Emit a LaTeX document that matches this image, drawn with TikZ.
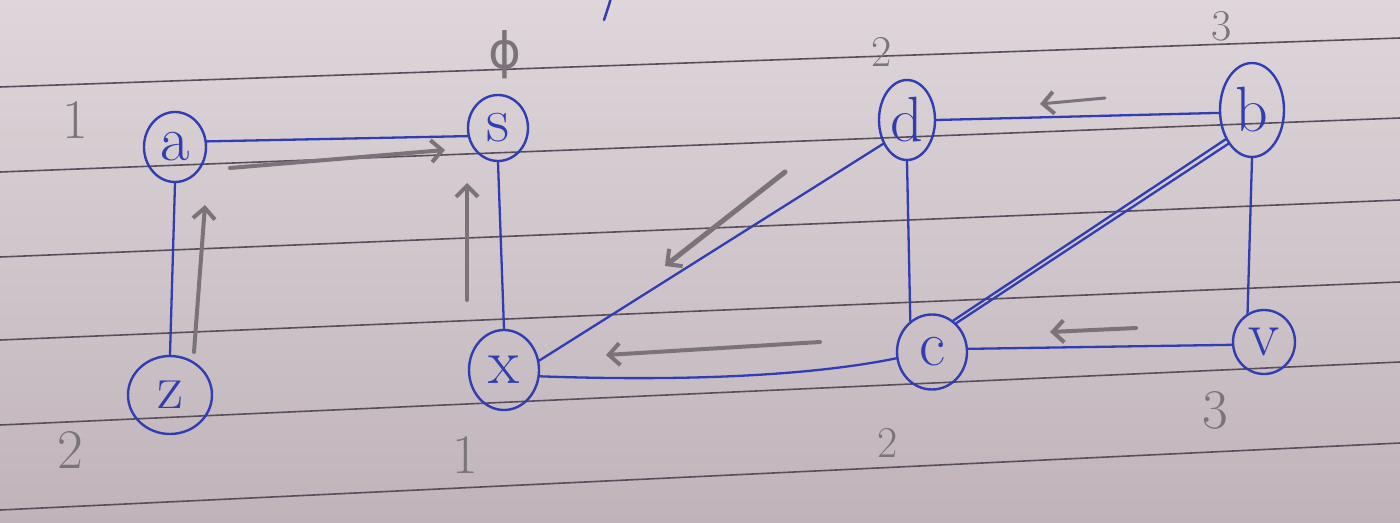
\documentclass[tikz,border=0pt]{standalone}
\usepackage{fontspec}
\newfontfamily\dvsans{DejaVu Sans}
\usetikzlibrary{arrows.meta,shapes.geometric}
\definecolor{ink}{RGB}{48,62,178}
\definecolor{pencil}{RGB}{122,116,122}
\definecolor{rule}{RGB}{88,78,92}
\definecolor{papertop}{RGB}{222,214,218}
\definecolor{paperbot}{RGB}{192,180,186}
\begin{document}
\begin{tikzpicture}[x=1pt,y=-1pt,
  vert/.style={ellipse, draw=ink, line width=2.4pt, inner sep=0pt, text=ink,
    font=\fontsize{64}{64}\selectfont},
  edge/.style={draw=ink, line width=2.3pt, line cap=round},
  pencilarrow/.style={draw=pencil, line width=4pt, line cap=round,
    -{Straight Barb[length=11pt,width=22pt,line width=4pt]}},
  lab/.style={text=pencil, font=\fontsize{56}{56}\selectfont},
  smalllab/.style={text=pencil, font=\fontsize{44}{44}\selectfont}]
\useasboundingbox (0,0) rectangle (1400,522);
\shade[top color=papertop, bottom color=paperbot] (0,0) rectangle (1400,522);
% ruled lines
\foreach \l/\r in {87/38,172/118,257/200,340/282,425/362,510/443}
  \draw[rule, line width=1.6pt] (0,\l) -- (1400,\r);
% vertices
\node[vert, minimum width=62pt, minimum height=70pt] (a) at (175,147) {a};
\node[vert, minimum width=60pt, minimum height=66pt] (s) at (498,128) {s};
\node[vert, minimum width=56pt, minimum height=80pt] (d) at (907,120) {d};
\node[vert, minimum width=64pt, minimum height=94pt] (b) at (1252,110) {b};
\node[vert, minimum width=84pt, minimum height=78pt] (z) at (170,395) {z};
\node[vert, minimum width=70pt, minimum height=80pt] (x) at (504,370) {x};
\node[vert, minimum width=70pt, minimum height=75pt] (c) at (932,352) {c};
\node[vert, minimum width=62pt, minimum height=64pt] (v) at (1264,342) {v};
% labels
\node[lab] (la) at (75,120) {1};
\node[lab, font=\dvsans\fontsize{50}{50}\selectfont] (ls) at (505,55) {ϕ};
\node[smalllab] (ld) at (882,52) {2};
\node[smalllab] (lb) at (1222,26) {3};
\node[lab] (lz) at (70,450) {2};
\node[lab] (lx) at (465,455) {1};
\node[smalllab] (lc) at (888,443) {2};
\node[lab] (lv) at (1215,410) {3};
% edges
\draw[edge] (a.10) -- (s.195);
\draw[edge] (a.south) -- (z.north);
\draw[edge] (s.south) -- (x.north);
\draw[edge] (x.15) -- (d.225);
\draw[edge] (x.-10) .. controls (700,382) and (820,374) .. (c.190);
\draw[edge] (d.east) -- (b.185);
\draw[edge] (d.south) -- (c.125);
\draw[edge] (c.50) -- (b.235);
\draw[edge] (c.56) -- (b.228);
\draw[edge] (b.south) -- (v.120);
\draw[edge] (c.5) -- (v.185);
% pencil arrows
\coordinate (p1s) at (230,168); \coordinate (p1e) at (445,150);
\coordinate (p2s) at (194,352); \coordinate (p2e) at (205,205);
\coordinate (p3s) at (467,300); \coordinate (p3e) at (467,183);
\coordinate (p4s) at (785,172); \coordinate (p4e) at (665,266);
\coordinate (p5s) at (820,342); \coordinate (p5e) at (606,355);
\coordinate (p6s) at (1105,98); \coordinate (p6e) at (1040,104);
\coordinate (p7s) at (1136,328); \coordinate (p7e) at (1050,332);
\draw[pencilarrow] (p1s) -- (p1e);
\draw[pencilarrow] (p2s) -- (p2e);
\draw[pencilarrow] (p3s) -- (p3e);
\draw[pencilarrow, line width=5pt] (p4s) -- (p4e);
\draw[pencilarrow] (p5s) -- (p5e);
\draw[pencilarrow, line width=3pt] (p6s) -- (p6e);
\draw[pencilarrow] (p7s) -- (p7e);
% stray ink stroke at top
\draw[ink, line width=2.5pt, line cap=round] (611,-2) .. controls (608,8) .. (604,20);
\end{tikzpicture}
\end{document}
